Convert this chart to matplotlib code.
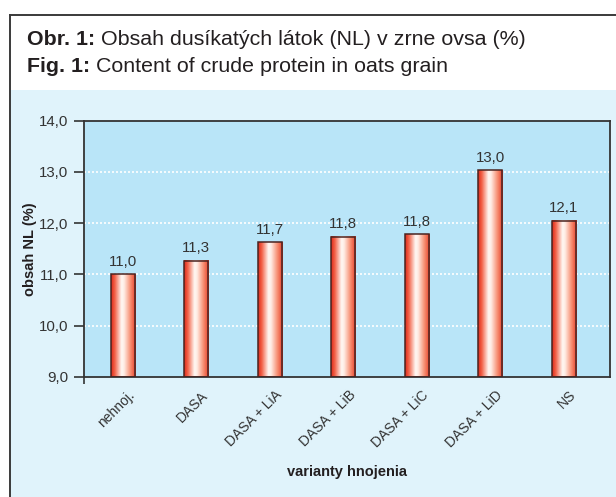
import numpy as np
import matplotlib
matplotlib.use("Agg")
import matplotlib.pyplot as plt
from matplotlib.colors import LinearSegmentedColormap
from matplotlib.patches import Rectangle
from matplotlib.lines import Line2D
import matplotlib.transforms as mtransforms

categories = ["nehnoj.", "DASA", "DASA + LiA", "DASA + LiB", "DASA + LiC", "DASA + LiD", "NS"]
values = [11.0, 11.27, 11.63, 11.74, 11.78, 13.03, 12.05]
value_labels = ["11,0", "11,3", "11,7", "11,8", "11,8", "13,0", "12,1"]
yticks = [9.0, 10.0, 11.0, 12.0, 13.0, 14.0]
ytick_labels = ["9,0", "10,0", "11,0", "12,0", "13,0", "14,0"]
title_bold = ["Obr. 1:", "Fig. 1:"]
title_text = [" Obsah dusíkatých látok (NL) v zrne ovsa (%)", " Content of crude protein in oats grain"]
ylabel = "obsah NL (%)"
xlabel = "varianty hnojenia"

plt.rcParams['font.family'] = ['Liberation Sans', 'DejaVu Sans']

W, H = 616, 497
fig = plt.figure(figsize=(W / 100, H / 100), dpi=100)
fig.patch.set_facecolor("white")

def fx(px):
    return px / W

def fy(py):
    return 1 - py / H

# light blue panel
fig.add_artist(Rectangle((fx(10), 0), 1 - fx(10), fy(90), transform=fig.transFigure,
                         facecolor="#e0f3fb", edgecolor="none", zorder=0))
# outer frame lines
fig.add_artist(Line2D([fx(10), fx(10)], [0, fy(15)], transform=fig.transFigure,
                      color="#3a3a3a", lw=1.4, zorder=1))
fig.add_artist(Line2D([fx(10), 1], [fy(15), fy(15)], transform=fig.transFigure,
                      color="#3a3a3a", lw=1.4, zorder=1))

# titles
renderer = fig.canvas.get_renderer()
for i, (b, t) in enumerate(zip(title_bold, title_text)):
    yb = fy(45 + i * 26.5)
    tb = fig.text(fx(27), yb, b, fontsize=15.4, fontweight="bold", color="#231f20",
                  va="baseline", ha="left")
    bb = tb.get_window_extent(renderer=renderer)
    fig.text(bb.x1 / W, yb, t, fontsize=15.4, color="#231f20", va="baseline", ha="left")

ax = fig.add_axes([fx(84), fy(377), fx(610) - fx(84), fy(120.7) - fy(377)])
ax.set_facecolor("#b9e5f8")

x = np.arange(len(categories))
bw = 0.327

cmap = LinearSegmentedColormap.from_list("barg", [
    (0.0, (0.86, 0.16, 0.10)),
    (0.15, (0.95, 0.38, 0.28)),
    (0.42, (1.0, 0.97, 0.95)),
    (0.52, (1.0, 0.93, 0.90)),
    (0.78, (0.97, 0.56, 0.45)),
    (1.0, (0.90, 0.24, 0.15)),
])
grad = np.linspace(0, 1, 256).reshape(1, -1)

ax.bar(x, np.array(values) - 9.0, bottom=9.0, width=bw, facecolor="none",
       edgecolor="#4a2320", linewidth=1.1, zorder=3)
for xi, v in zip(x, values):
    ax.imshow(grad, cmap=cmap, extent=(xi - bw / 2, xi + bw / 2, 9.0, v),
              aspect="auto", zorder=2, interpolation="bilinear")

for xi, v, lab in zip(x, values, value_labels):
    ax.annotate(lab, (xi, v), xytext=(0, 6.2), textcoords="offset points",
                ha="center", va="baseline", fontsize=10.8, color="#333333")

ax.set_xlim(-0.527, 6.63)
ax.set_ylim(9.0, 14.0)
ax.set_yticks(yticks)
ax.set_yticklabels(ytick_labels, fontsize=10.8, color="#333333")
ax.set_xticks(x)
ax.set_xticklabels([])
ax.tick_params(axis="x", length=0, pad=0)
ax.set_xticks([-0.527], minor=True)
ax.tick_params(axis="x", which="minor", length=5, width=1.2, color="#333333", direction="out")
ax.tick_params(axis="y", length=7, width=1.2, color="#333333", direction="out", pad=4.3)

# rotated category labels, anchored at each category position below the axis
blend = mtransforms.blended_transform_factory(ax.transData, ax.transAxes)
offset = mtransforms.ScaledTranslation(10 / 100, -16 / 100, fig.dpi_scale_trans)
for xi, cat in zip(x, categories):
    ax.text(xi, 0, cat, transform=blend + offset, rotation=45, rotation_mode="anchor",
            ha="right", va="center", fontsize=10, color="#333333", clip_on=False)

for yv in yticks[1:-1]:
    ax.axhline(yv, color="white", lw=1.2, ls=(0, (1.2, 1.2)), zorder=1)

for s in ax.spines.values():
    s.set_color("#333333")
    s.set_linewidth(1.3)

ax.set_ylabel(ylabel, fontsize=10.5, fontweight="bold", color="#231f20")
ax.yaxis.set_label_coords(-0.0894, 0.5)
fig.text(fx(347), fy(472), xlabel, fontsize=10.5, fontweight="bold", color="#231f20",
         ha="center", va="center")

fig.savefig("out.png", dpi=100)
